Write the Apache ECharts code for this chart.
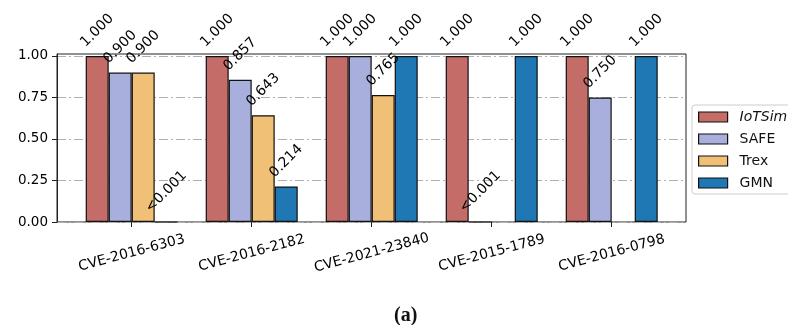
<!DOCTYPE html>
<html>
<head>
<meta charset="utf-8">
<script src="https://cdn.jsdelivr.net/npm/echarts@6/dist/echarts.min.js"></script>
<style>
html,body{margin:0;padding:0;background:#fff;}
#chart{width:788px;height:325px;}
</style>
</head>
<body>
<div id="chart"></div>
<script>
// ---- data ----
const categories = ['CVE-2016-6303', 'CVE-2016-2182', 'CVE-2021-23840', 'CVE-2015-1789', 'CVE-2016-0798'];
const seriesNames = ['IoTSim', 'SAFE', 'Trex', 'GMN'];
const iotsim = [1.000, 1.000, 1.000, 1.000, 1.000];
const safe   = [0.900, 0.857, 1.000, 0,     0.750];
const trex   = [0.900, 0.643, 0.765, null,  null];
const gmn    = [0,     0.214, 1.000, 1.000, 1.000];
const yTicks = [0, 0.25, 0.5, 0.75, 1.0];
const caption = '(a)';

const colors = ['#c46c67', '#a8afdc', '#f0c077', '#1f77b4'];
const allValues = [iotsim, safe, trex, gmn];

const labelFont = 14;
const cvs = document.createElement('canvas');
const ctx = cvs.getContext('2d');
ctx.font = labelFont + 'px "DejaVu Sans"';
function fmt(v) { return v === 0 ? '<0.001' : v.toFixed(3); }
function dist(v) {
  const w = ctx.measureText(fmt(v)).width;
  const h = 15;
  return 6 + 0.354 * (w + h);
}

const yMax = 1.012;
const chart = echarts.init(document.getElementById('chart'), null, {renderer: 'canvas'});

const series = allValues.map((arr, i) => ({
  name: seriesNames[i],
  type: 'bar',
  xAxisIndex: 1,
  yAxisIndex: 1,
  barWidth: 23,
  barGap: '0%',
  itemStyle: {color: colors[i], borderColor: '#111', borderWidth: 1.2},
  label: {
    show: true,
    position: 'top',
    rotate: 45,
    align: 'center',
    verticalAlign: 'middle',
    fontSize: labelFont,
    fontFamily: 'DejaVu Sans',
    color: '#000',
    formatter: p => fmt(p.value)
  },
  emphasis: {disabled: true},
  animation: false,
  data: arr.map(v => v === null ? null : {value: v, label: {distance: dist(v)}})
}));

const option = {
  animation: false,
  title: {
    text: caption,
    left: 389,
    top: 301,
    textStyle: {fontFamily: 'Liberation Serif', fontWeight: 'bold', fontSize: 20, color: '#111'}
  },
  legend: {
    data: seriesNames.map(n => ({name: n, icon: 'rect'})),
    orient: 'vertical',
    left: 692,
    top: 105,
    padding: [5, 6, 4, 6],
    itemWidth: 29,
    itemHeight: 10,
    itemGap: 8,
    borderColor: '#cccccc',
    borderWidth: 1,
    borderRadius: 3,
    selectedMode: false,
    itemStyle: {borderColor: '#111', borderWidth: 1.2},
    formatter: n => n === 'IoTSim' ? '{i|IoTSim}' : n,
    textStyle: {
      fontFamily: 'DejaVu Sans', fontSize: 14, color: '#111', lineHeight: 14,
      padding: [0, 0, 0, 7],
      rich: {i: {fontStyle: 'italic', fontFamily: 'DejaVu Sans', fontSize: 14, color: '#111'}}
    }
  },
  grid: [
    {left: 57, right: 102, top: 54, bottom: 103, show: true, borderColor: '#222', borderWidth: 1, backgroundColor: 'transparent'},
    {left: 71.7, right: 116.3, top: 54, bottom: 103}
  ],
  xAxis: [
    {type: 'value', gridIndex: 0, min: 0, max: 1, show: false},
    {
      type: 'category', gridIndex: 1, data: categories,
      axisLine: {show: false},
      axisTick: {show: true, alignWithLabel: true, length: 5, lineStyle: {color: '#222'}},
      axisLabel: {
        rotate: 15, align: 'center', verticalAlign: 'middle', margin: 31,
        fontFamily: 'DejaVu Sans', fontSize: 14, color: '#000', interval: 0
      },
      splitLine: {show: false}
    }
  ],
  yAxis: [
    {
      type: 'value', gridIndex: 0, min: 0, max: yMax, interval: 0.25,
      axisLine: {show: true, lineStyle: {color: '#222'}},
      axisTick: {show: true, length: 5, lineStyle: {color: '#222'}, customValues: yTicks},
      axisLabel: {
        customValues: yTicks,
        formatter: v => v.toFixed(2), fontFamily: 'DejaVu Sans', fontSize: 13.5, color: '#000', margin: 9
      },
      splitLine: {show: true, lineStyle: {color: '#b0b0b0', width: 1, type: [9, 3, 2, 3]}}
    },
    {type: 'value', gridIndex: 1, min: 0, max: yMax, show: false}
  ],
  series: series
};
chart.setOption(option);
</script>
</body>
</html>
